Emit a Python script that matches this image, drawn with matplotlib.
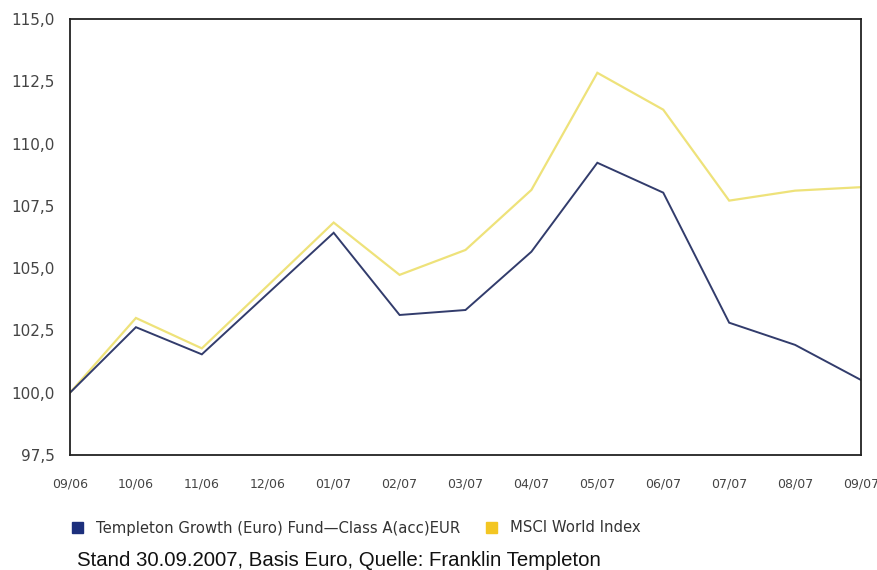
import matplotlib
matplotlib.use("Agg")
import matplotlib.pyplot as plt
from matplotlib.patches import Rectangle

months = ["09/06", "10/06", "11/06", "12/06", "01/07", "02/07", "03/07",
          "04/07", "05/07", "06/07", "07/07", "08/07", "09/07"]
fund = [100.0, 102.63, 101.54, 103.98, 106.42, 103.12, 103.32,
        105.66, 109.23, 108.03, 102.81, 101.92, 100.51]
msci = [100.0, 103.0, 101.78, 104.3, 106.83, 104.73, 105.73,
        108.14, 112.84, 111.36, 107.71, 108.11, 108.25]
yticks = [97.5, 100.0, 102.5, 105.0, 107.5, 110.0, 112.5, 115.0]
ytick_labels = ["97,5", "100,0", "102,5", "105,0", "107,5", "110,0", "112,5", "115,0"]
legend_labels = ["Templeton Growth (Euro) Fund\u2014Class A(acc)EUR", "MSCI World Index"]
footer = "Stand 30.09.2007, Basis Euro, Quelle: Franklin Templeton"

W, H = 878, 570
fig = plt.figure(figsize=(W/100, H/100), dpi=100)
ax = fig.add_axes([70/W, 1-455/H, (861-70)/W, (455-19)/H])
x = list(range(len(months)))
ax.plot(x, msci, color="#eee27a", lw=1.6, solid_joinstyle="miter")
ax.plot(x, fund, color="#323c6c", lw=1.4, solid_joinstyle="miter")
ax.set_xlim(0, len(months)-1)
ax.set_ylim(97.5, 115.0)
ax.set_yticks(yticks)
ax.set_yticklabels(ytick_labels)
ax.set_xticks(x)
ax.set_xticklabels(months)
ax.tick_params(length=0, colors="#444444")
ax.tick_params(axis="x", pad=16, labelsize=9)
ax.tick_params(axis="y", pad=11, labelsize=11)
for s in ax.spines.values():
    s.set_color("#222222")
    s.set_linewidth(1.3)

# legend
fig.patches.append(Rectangle((72/W, 1-533/H), 11/W, 11/H, transform=fig.transFigure,
                             color="#1c2f7c", figure=fig))
fig.text(96/W, 1-528/H, legend_labels[0], fontsize=10.7, color="#333333", va="center")
fig.patches.append(Rectangle((486/W, 1-533/H), 11/W, 11/H, transform=fig.transFigure,
                             color="#f3c623", figure=fig))
fig.text(510/W, 1-528/H, legend_labels[1], fontsize=10.7, color="#333333", va="center")
fig.text(77/W, 1-560/H, footer, fontsize=14.7, family="Liberation Sans", color="#111111", va="center")

fig.savefig("out.png", dpi=100, facecolor="white")
